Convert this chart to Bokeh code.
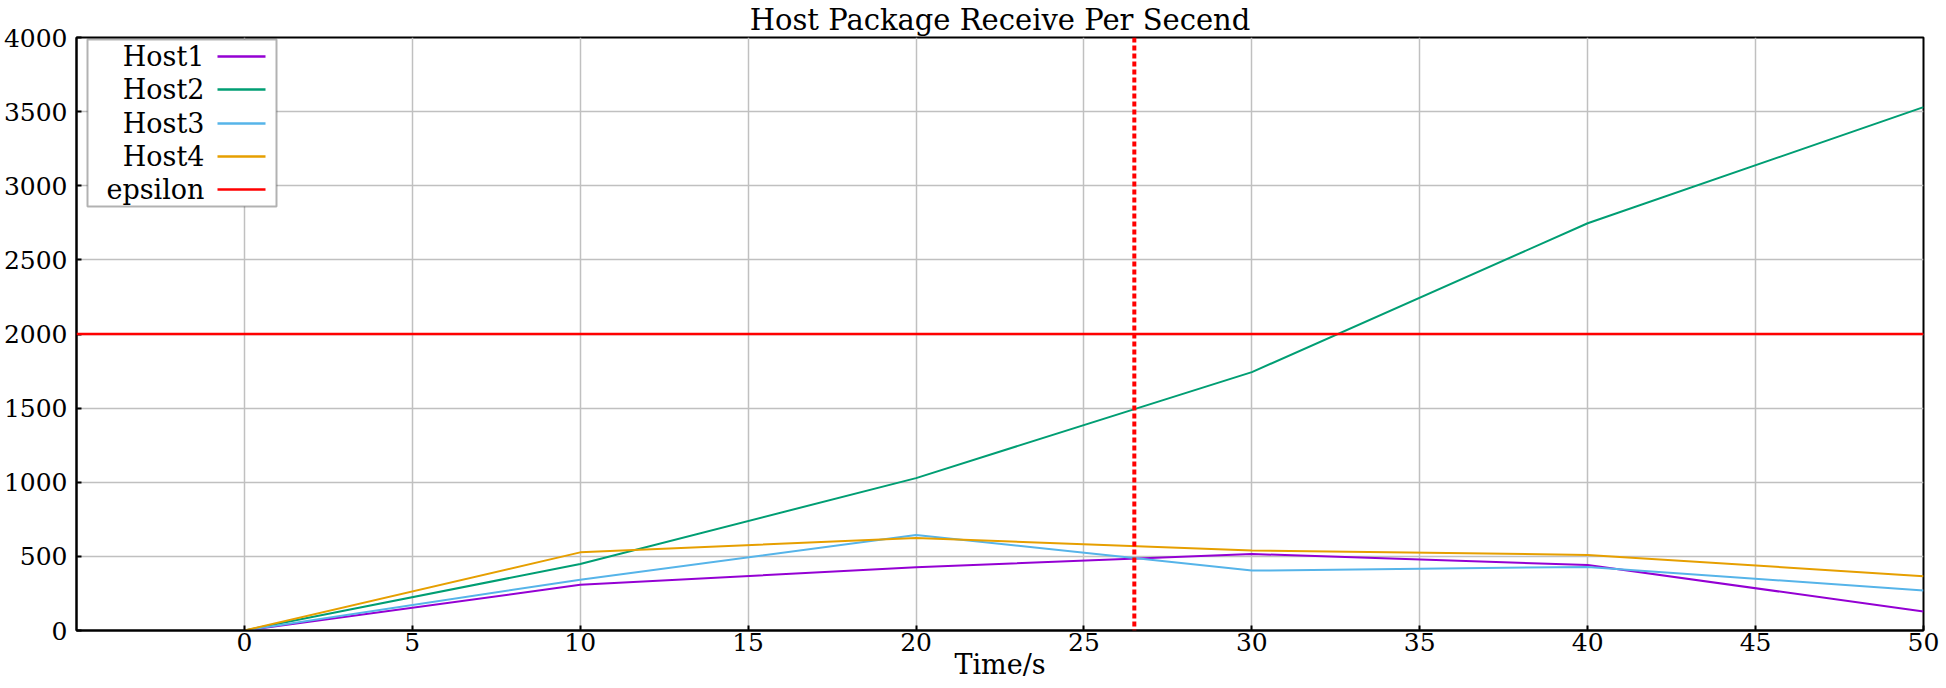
from bokeh.plotting import figure
from bokeh.models import Range1d, FixedTicker, Span, Label, BoxAnnotation
from bokeh.embed import file_html
from bokeh.resources import INLINE

# ---- data ----
time_s = [0, 10, 20, 30, 40, 50]
host1 = [0, 308, 426, 516, 442, 128]
host2 = [0, 449, 1028, 1743, 2747, 3530]
host3 = [0, 343, 644, 404, 429, 269]
host4 = [0, 527, 624, 539, 510, 366]
epsilon = 2000
marker_time = 26.5
x_ticks = [0, 5, 10, 15, 20, 25, 30, 35, 40, 45, 50]
y_ticks = [0, 500, 1000, 1500, 2000, 2500, 3000, 3500, 4000]
series_names = ["Host1", "Host2", "Host3", "Host4", "epsilon"]
colors = ["#9400D3", "#009E73", "#56B4E9", "#E69F00", "#FF0000"]
title_text = "Host Package Receive Per Secend"
x_label = "Time/s"

FONT = "DejaVu Serif"
FRAME_H = 594

p = figure(width=1946, height=688, output_backend="svg", toolbar_location=None,
           x_range=Range1d(-5, 50), y_range=Range1d(0, 4000),
           min_border_left=76, min_border_right=23, min_border_top=36, min_border_bottom=58)

xax = p.below[0]
yax = p.left[0]

p.title.text = title_text
p.title.align = "center"
p.title.text_font = FONT
p.title.text_font_size = "29px"
p.title.text_font_style = "normal"
p.title.text_color = "black"
p.title.standoff = 1
p.title.offset = 0

p.outline_line_color = "black"
p.outline_line_width = 2
p.outline_line_alpha = 1.0

for ax in (xax, yax):
    ax.axis_line_width = 2
    ax.axis_line_color = "black"
    ax.major_tick_in = 5
    ax.major_tick_out = 0
    ax.major_tick_line_width = 2
    ax.minor_tick_line_color = None
    ax.major_label_text_font = FONT
    ax.major_label_text_font_size = "25px"
    ax.major_label_text_color = "black"

xax.ticker = FixedTicker(ticks=x_ticks)
yax.ticker = FixedTicker(ticks=y_ticks)
xax.major_label_standoff = 2
yax.major_label_standoff = 9
xax.axis_label = x_label
xax.axis_label_text_font = FONT
xax.axis_label_text_font_size = "27px"
xax.axis_label_text_font_style = "normal"
xax.axis_label_text_color = "black"
xax.axis_label_standoff = -5

p.xgrid.ticker = FixedTicker(ticks=x_ticks)
p.ygrid.ticker = FixedTicker(ticks=y_ticks)
p.grid.grid_line_color = "#c0c0c0"
p.grid.grid_line_width = 1.5

# data lines
ys = [host1, host2, host3, host4]
for y, c in zip(ys, colors[:4]):
    p.line(time_s, y, line_color=c, line_width=2)

p.add_layout(Span(location=epsilon, dimension="width", line_color=colors[4], line_width=2.5))
p.add_layout(Span(location=marker_time, dimension="height", line_color=colors[4], line_width=4,
                  line_dash="5 3"))

# legend (label on the left, sample on the right); screen units measured from frame bottom-left
def fy(px_from_top):
    return FRAME_H - px_from_top

p.add_layout(BoxAnnotation(left=11, right=200, top=fy(3), bottom=fy(170),
                           left_units="screen", right_units="screen",
                           top_units="screen", bottom_units="screen",
                           fill_color="white", fill_alpha=1.0,
                           line_color="black", line_width=2))
row_y = [20, 53, 87, 120, 153]
for name, c, ry in zip(series_names, colors, row_y):
    p.add_layout(Label(x=128, y=fy(ry), x_units="screen", y_units="screen", text=name,
                       text_align="right", text_baseline="middle",
                       text_font=FONT, text_font_size="27px", text_color="black"))
    p.add_layout(BoxAnnotation(left=141, right=189, top=fy(ry) + 1.2, bottom=fy(ry) - 1.2,
                               left_units="screen", right_units="screen",
                               top_units="screen", bottom_units="screen",
                               fill_color=c, fill_alpha=1.0, line_color=None))

open("out.html", "w").write(file_html(p, INLINE))
